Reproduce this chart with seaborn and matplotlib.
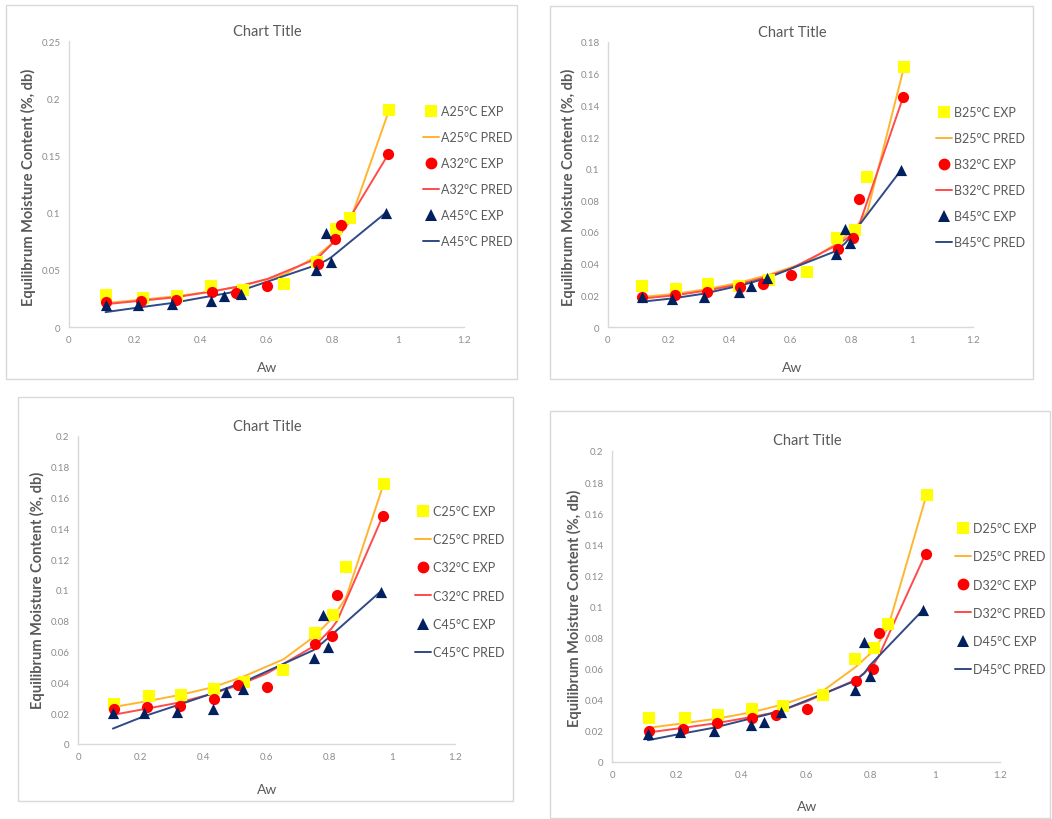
import numpy as np
import pandas as pd
import matplotlib
matplotlib.use("Agg")
import matplotlib.pyplot as plt
from matplotlib.lines import Line2D
from matplotlib.patches import Rectangle
import seaborn as sns

sns.set_theme(style="white")
plt.rcParams['font.family'] = ['Lato', 'DejaVu Sans']

# ---- data ----
aw25 = [0.113, 0.225, 0.328, 0.432, 0.529, 0.654, 0.753, 0.811, 0.853, 0.973]
aw32 = [0.113, 0.220, 0.324, 0.433, 0.508, 0.603, 0.755, 0.807, 0.825, 0.970]
aw45 = [0.111, 0.210, 0.314, 0.430, 0.470, 0.524, 0.750, 0.780, 0.797, 0.963]

A25_exp = [0.028, 0.025, 0.027, 0.036, 0.032, 0.038, 0.057, 0.086, 0.095, 0.190]
A25_pred = [0.021, 0.024, 0.027, 0.031, 0.036, 0.046, 0.062, 0.076, 0.092, 0.190]
A32_exp = [0.022, 0.023, 0.024, 0.031, 0.030, 0.036, 0.055, 0.077, 0.089, 0.151]
A32_pred = [0.020, 0.023, 0.026, 0.031, 0.035, 0.042, 0.060, 0.075, 0.082, 0.151]
A45_exp = [0.019, 0.0195, 0.020, 0.023, 0.027, 0.029, 0.050, 0.082, 0.057, 0.100]
A45_pred = [0.013, 0.017, 0.021, 0.027, 0.029, 0.032, 0.054, 0.058, 0.061, 0.100]

B25_exp = [0.026, 0.024, 0.027, 0.026, 0.030, 0.035, 0.056, 0.061, 0.095, 0.164]
B25_pred = [0.019, 0.021, 0.024, 0.028, 0.033, 0.041, 0.053, 0.062, 0.073, 0.164]
B32_exp = [0.019, 0.020, 0.022, 0.025, 0.027, 0.033, 0.049, 0.056, 0.081, 0.145]
B32_pred = [0.018, 0.020, 0.023, 0.027, 0.031, 0.037, 0.052, 0.059, 0.064, 0.145]
B45_exp = [0.019, 0.018, 0.019, 0.022, 0.026, 0.031, 0.046, 0.062, 0.053, 0.099]
B45_pred = [0.016, 0.018, 0.021, 0.026, 0.028, 0.031, 0.048, 0.053, 0.057, 0.099]

C25_exp = [0.026, 0.031, 0.032, 0.036, 0.040, 0.048, 0.072, 0.084, 0.115, 0.169]
C25_pred = [0.024, 0.028, 0.032, 0.037, 0.044, 0.055, 0.070, 0.082, 0.095, 0.169]
C32_exp = [0.023, 0.024, 0.025, 0.029, 0.038, 0.037, 0.065, 0.070, 0.097, 0.148]
C32_pred = [0.019, 0.023, 0.027, 0.033, 0.038, 0.046, 0.064, 0.075, 0.080, 0.148]
C45_exp = [0.020, 0.020, 0.021, 0.023, 0.034, 0.036, 0.056, 0.084, 0.063, 0.099]
C45_pred = [0.010, 0.018, 0.025, 0.033, 0.036, 0.040, 0.061, 0.066, 0.069, 0.099]

D25_exp = [0.028, 0.028, 0.030, 0.034, 0.036, 0.043, 0.066, 0.073, 0.089, 0.172]
D25_pred = [0.022, 0.025, 0.028, 0.032, 0.037, 0.046, 0.061, 0.072, 0.086, 0.172]
D32_exp = [0.020, 0.021, 0.025, 0.028, 0.030, 0.034, 0.052, 0.060, 0.083, 0.134]
D32_pred = [0.019, 0.022, 0.025, 0.029, 0.032, 0.039, 0.053, 0.062, 0.068, 0.134]
D45_exp = [0.018, 0.019, 0.020, 0.024, 0.026, 0.032, 0.046, 0.077, 0.055, 0.098]
D45_pred = [0.014, 0.018, 0.022, 0.028, 0.030, 0.033, 0.052, 0.057, 0.062, 0.098]

panels = [
    dict(name="A", exp=[A25_exp, A32_exp, A45_exp], pred=[A25_pred, A32_pred, A45_pred],
         ymax=0.25, yticks=[0, 0.05, 0.1, 0.15, 0.2, 0.25],
         ylabels=["0", "0.05", "0.1", "0.15", "0.2", "0.25"]),
    dict(name="B", exp=[B25_exp, B32_exp, B45_exp], pred=[B25_pred, B32_pred, B45_pred],
         ymax=0.18, yticks=[0, 0.02, 0.04, 0.06, 0.08, 0.1, 0.12, 0.14, 0.16, 0.18],
         ylabels=["0", "0.02", "0.04", "0.06", "0.08", "0.1", "0.12", "0.14", "0.16", "0.18"]),
    dict(name="C", exp=[C25_exp, C32_exp, C45_exp], pred=[C25_pred, C32_pred, C45_pred],
         ymax=0.2, yticks=[0, 0.02, 0.04, 0.06, 0.08, 0.1, 0.12, 0.14, 0.16, 0.18, 0.2],
         ylabels=["0", "0.02", "0.04", "0.06", "0.08", "0.1", "0.12", "0.14", "0.16", "0.18", "0.2"]),
    dict(name="D", exp=[D25_exp, D32_exp, D45_exp], pred=[D25_pred, D32_pred, D45_pred],
         ymax=0.2, yticks=[0, 0.02, 0.04, 0.06, 0.08, 0.1, 0.12, 0.14, 0.16, 0.18, 0.2],
         ylabels=["0", "0.02", "0.04", "0.06", "0.08", "0.1", "0.12", "0.14", "0.16", "0.18", "0.2"]),
]
temps = ["25", "32", "45"]
xs = [aw25, aw32, aw45]
xticks = [0, 0.2, 0.4, 0.6, 0.8, 1, 1.2]
xticklabels = ["0", "0.2", "0.4", "0.6", "0.8", "1", "1.2"]

# ---- styles ----
mk_colors = ["#FFFF00", "#FF0000", "#002060"]
ln_colors = ["#FFB62E", "#FF4B4B", "#2F4A85"]
markers = ["s", "o", "^"]
grey = "#595959"
tick_grey = "#8C8C8C"
W, H = 1052, 820

fig = plt.figure(figsize=(W / 100, H / 100), dpi=100)

layouts = [
    dict(ax=(69, 464, 328, 42), frame=(6, 6, 517, 380), title=(267, 32), xl=(267, 368), yl=(28, 187),
         leg=(423, 106), sp=1.12),
    dict(ax=(608, 973, 328, 43), frame=(550, 7, 1033, 380), title=(792, 33), xl=(792, 368), yl=(568, 187),
         leg=(936, 107), sp=1.12),
    dict(ax=(78, 455, 745, 437), frame=(18, 398, 513, 802), title=(267, 427), xl=(267, 790), yl=(37, 590),
         leg=(415, 506), sp=1.3),
    dict(ax=(612, 1000, 763, 452), frame=(550, 412, 1050, 819), title=(807, 441), xl=(807, 807), yl=(574, 608),
         leg=(955, 523), sp=1.3),
]

for p, L in zip(panels, layouts):
    l, r, b, t = L["ax"]
    ax = fig.add_axes([l / W, (H - b) / H, (r - l) / W, (b - t) / H])
    fl, ft, fr, fb = L["frame"]
    fig.patches.append(Rectangle((fl / W, (H - fb) / H), (fr - fl) / W, (fb - ft) / H,
                                 transform=fig.transFigure, fill=False, edgecolor="#D9D9D9",
                                 linewidth=1.0, zorder=0))
    for i in range(3):
        df_pred = pd.DataFrame({"Aw": xs[i], "EMC": p["pred"][i]})
        sns.lineplot(data=df_pred, x="Aw", y="EMC", ax=ax, color=ln_colors[i], linewidth=1.4,
                     sort=False, zorder=2)
    for i in range(3):
        df_exp = pd.DataFrame({"Aw": xs[i], "EMC": p["exp"][i]})
        sns.scatterplot(data=df_exp, x="Aw", y="EMC", ax=ax, color=mk_colors[i], marker=markers[i],
                        s=65, linewidth=0, zorder=3)
    ax.set_xlim(0, 1.2)
    ax.set_ylim(0, p["ymax"])
    ax.set_xticks(xticks)
    ax.set_xticklabels(xticklabels)
    ax.set_yticks(p["yticks"])
    ax.set_yticklabels(p["ylabels"])
    ax.tick_params(length=0, labelsize=7, labelcolor=tick_grey, pad=6)
    ax.set_xlabel("")
    ax.set_ylabel("")
    for s in ["top", "right"]:
        ax.spines[s].set_visible(False)
    for s in ["left", "bottom"]:
        ax.spines[s].set_color("#D9D9D9")
        ax.spines[s].set_linewidth(1.0)
    ax.grid(False)
    ax.set_facecolor("none")

    tx, ty = L["title"]
    fig.text(tx / W, (H - ty) / H, "Chart Title", ha="center", va="center", fontsize=10.5, color=grey)
    xx, xy = L["xl"]
    fig.text(xx / W, (H - xy) / H, "Aw", ha="center", va="center", fontsize=10, color=grey)
    yx, yy = L["yl"]
    fig.text(yx / W, (H - yy) / H, "Equilibrum Moisture Content (%, db)", ha="center", va="center",
             rotation=90, fontsize=10.5, fontweight="bold", color=grey)

    handles = []
    labels = []
    for i in range(3):
        handles.append(Line2D([], [], linestyle="none", marker=markers[i], color=mk_colors[i],
                              markersize=8.5, markeredgewidth=0))
        labels.append(f"{p['name']}{temps[i]}°C EXP")
        handles.append(Line2D([], [], color=ln_colors[i], linewidth=1.4))
        labels.append(f"{p['name']}{temps[i]}°C PRED")
    lx, ly = L["leg"]
    fig.legend(handles, labels, loc="upper left", bbox_to_anchor=(lx / W, (H - ly) / H),
               frameon=False, labelcolor=grey, handlelength=1.3, handletextpad=0.15,
               labelspacing=L["sp"], borderpad=0, borderaxespad=0, fontsize=9)

fig.savefig("out.png", dpi=100, facecolor="white")
